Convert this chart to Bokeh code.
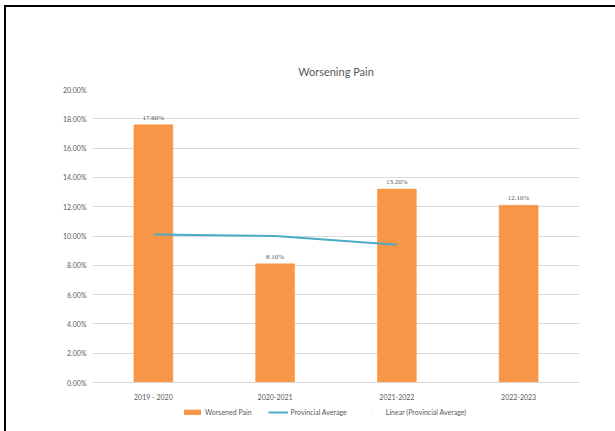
from bokeh.plotting import figure
from bokeh.layouts import column
from bokeh.models import (ColumnDataSource, Range1d, NumeralTickFormatter, Legend, LegendItem,
                          LabelSet, FactorRange)
from bokeh.embed import file_html
from bokeh.resources import INLINE

categories = ["2019 - 2020", "2020-2021", "2021-2022", "2022-2023"]
worsened_pain = [0.176, 0.081, 0.132, 0.121]
pain_labels = ["17.60%", "8.10%", "13.20%", "12.10%"]
avg_categories = ["2019 - 2020", "2020-2021", "2021-2022"]
provincial_average = [0.101, 0.100, 0.094]
legend_labels = ["Worsened Pain", "Provincial Average", "Linear (Provincial Average)"]

FONT = "Lato"
GREY = "#595959"
ORANGE = "#F79646"
AQUA = "#4BACC6"

p = figure(x_range=FactorRange(*categories), y_range=Range1d(0, 0.2),
           width=609, height=396, output_backend="svg", toolbar_location=None,
           min_border_left=86, min_border_right=36, min_border_top=82, min_border_bottom=10)
p.outline_line_color = None

bar_src = ColumnDataSource(dict(x=categories, y=worsened_pain, lab=pain_labels))
p.vbar(x="x", top="y", width=0.32, source=bar_src, fill_color=ORANGE,
       line_color=ORANGE, line_width=0.5)
avg_src = ColumnDataSource(dict(x=avg_categories, y=provincial_average))
p.line(x="x", y="y", source=avg_src, line_color=AQUA, line_width=2)

labels = LabelSet(x="x", y="y", text="lab", source=bar_src, text_align="center",
                  text_baseline="bottom", y_offset=3, text_font=FONT, text_font_size="7px",
                  text_color=GREY)
p.add_layout(labels)

p.title.text = "Worsening Pain"
p.title.align = "center"
p.title.text_font = FONT
p.title.text_font_size = "11px"
p.title.text_font_style = "normal"
p.title.text_color = GREY
p.title.offset = -20
p.title.standoff = 23

p.yaxis.formatter = NumeralTickFormatter(format="0.00%")
p.yaxis.ticker.desired_num_ticks = 11
p.yaxis.axis_line_color = None
p.yaxis.major_tick_line_color = None
p.yaxis.minor_tick_line_color = None
p.yaxis.major_label_text_font = FONT
p.yaxis.major_label_text_font_size = "7px"
p.yaxis.major_label_text_color = GREY
p.yaxis.major_label_standoff = 0

p.xaxis.axis_line_color = "#D9D9D9"
p.xaxis.major_tick_line_color = None
p.xaxis.major_label_text_font = FONT
p.xaxis.major_label_text_font_size = "7px"
p.xaxis.major_label_text_color = GREY
p.xaxis.major_label_standoff = 4

p.xgrid.grid_line_color = None
p.ygrid.grid_line_color = "#D9D9D9"
p.x_range.range_padding = 0
p.x_range.group_padding = 0

# legend strip
lg = figure(width=609, height=28, output_backend="svg", toolbar_location=None,
            min_border=0, x_range=Range1d(0, 1), y_range=Range1d(0, 1),
            x_axis_location=None, y_axis_location=None)
lg.grid.visible = False
lg.outline_line_color = None
r1 = lg.rect(x=[5], y=[5], width=1, height=1, fill_color=ORANGE, line_color=ORANGE)
r2 = lg.line(x=[5, 6], y=[5, 5], line_color=AQUA, line_width=2)
r3 = lg.line(x=[5, 6], y=[5, 5], line_color="#DAEEF3", line_width=2, line_dash="1 30",
             line_dash_offset=-8)

legend = Legend(items=[LegendItem(label=legend_labels[0], renderers=[r1]),
                       LegendItem(label=legend_labels[1], renderers=[r2]),
                       LegendItem(label=legend_labels[2], renderers=[r3])],
                orientation="horizontal", location=(90, 15), border_line_color=None,
                background_fill_alpha=0,
                label_text_font=FONT, label_text_font_size="7px", label_text_color=GREY,
                glyph_width=20, glyph_height=6, spacing=16, padding=2, margin=0,
                label_standoff=3)
lg.add_layout(legend)

layout = column(p, lg, spacing=0)
layout.margin = (5, 0, 0, 4)
layout.styles = {"border-top": "2px solid #000", "border-left": "2px solid #000"}

open("out.html", "w").write(file_html(layout, INLINE))
